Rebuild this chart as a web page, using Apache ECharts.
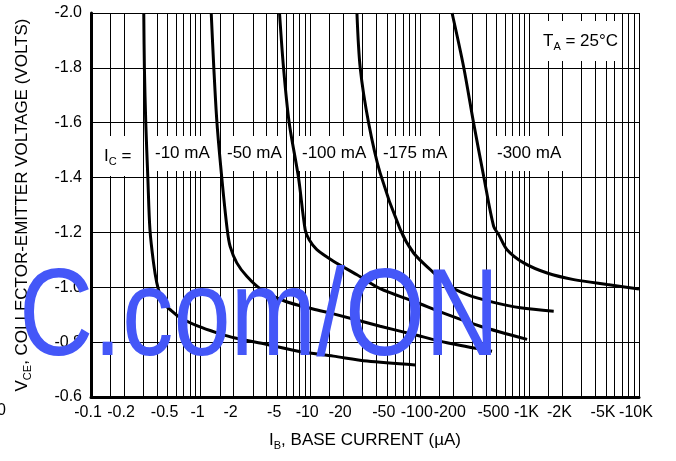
<!DOCTYPE html>
<html>
<head>
<meta charset="utf-8">
<script src="https://cdn.jsdelivr.net/npm/echarts@6/dist/echarts.min.js"></script>
<style>
html,body{margin:0;padding:0;background:#fff;}
#c{width:676px;height:461px;}
</style>
</head>
<body>
<div id="c"></div>
<script>
// ---- data (I_B in µA, shown negative; V_CE in volts) ----
const ib10  = [0.303,0.307,0.316,0.330,0.345,0.372,0.398,0.427,0.474,0.526,0.650,0.949,1.41,2.07,3.96,7.77,16.3,33.0,91];
const vce10 = [-2.0,-1.8,-1.6,-1.4,-1.21,-1.089,-1.017,-0.973,-0.937,-0.919,-0.89,-0.858,-0.834,-0.815,-0.792,-0.767,-0.749,-0.731,-0.717];

const ib50  = [1.25,1.32,1.41,1.56,1.75,1.86,2.14,2.64,3.57,5.91,10.6,16.3,43.5,87.8,177,456];
const vce50 = [-2.0,-1.8,-1.6,-1.4,-1.21,-1.149,-1.089,-1.04,-0.992,-0.949,-0.921,-0.903,-0.858,-0.828,-0.798,-0.767];

const ib100  = [5.25,5.71,6.43,7.82,9.0,9.79,11.5,16.3,26.7,43.5,87.8,177,357,953];
const vce100 = [-2.0,-1.8,-1.6,-1.4,-1.21,-1.173,-1.137,-1.095,-1.046,-0.995,-0.949,-0.901,-0.858,-0.81];

const ib175  = [26.7,28.6,34.1,43.5,66.4,87.8,125,177,270,472,828,1667];
const vce175 = [-2.0,-1.8,-1.6,-1.416,-1.21,-1.125,-1.064,-1.01,-0.973,-0.945,-0.925,-0.913];

const ib300  = [197,251,310,383,472,525,625,887,1452,2542,5128,10000];
const vce300 = [-2.0,-1.804,-1.598,-1.404,-1.222,-1.192,-1.137,-1.089,-1.052,-1.028,-1.01,-0.994];

const seriesNames = ['-10 mA','-50 mA','-100 mA','-175 mA','-300 mA'];

const xLabelValues = [0.1,0.2,0.5,1,2,5,10,20,50,100,200,500,1000,2000,5000,10000];
const xLabelTexts  = ['-0.1','-0.2','-0.5','-1','-2','-5','-10','-20','-50','-100','-200','-500','-1K','-2K','-5K','-10K'];
const xGridMantissas = [1,1.5,2,3,4,5,6,7,8,9];
const xDecades = [0.1,1,10,100,1000];

// ---- build ----
const xGridValues = [];
xDecades.forEach(d => xGridMantissas.forEach(m => xGridValues.push(+(m*d).toPrecision(3))));
xGridValues.push(10000);

function pairs(xs, ys){ return xs.map((x,i)=>[x, ys[i]]); }
const allX = [ib10, ib50, ib100, ib175, ib300];
const allY = [vce10, vce50, vce100, vce175, vce300];

const FONT = 'Liberation Sans';
const chart = echarts.init(document.getElementById('c'), null, {renderer:'canvas'});

function xLabel(v){
  let best = 0, bd = 1e9;
  xLabelValues.forEach((lv,i)=>{ const d = Math.abs(Math.log10(v) - Math.log10(lv)); if(d<bd){bd=d;best=i;} });
  return xLabelTexts[best];
}

const subRich = {
  v: {fontFamily: FONT, fontSize: 17, color:'#000', lineHeight: 22},
  s: {fontFamily: FONT, fontSize: 11, color:'#000', lineHeight: 11, verticalAlign:'bottom'}
};

const labelBox = (left, top, text) => ({
  type:'text', left:left, top:top, z:1,
  style:{
    text:text, fill:'#000', font:'17px ' + FONT,
    backgroundColor:'#fff', padding:[9,3,9,3], rich: subRich
  }
});

chart.setOption({
  animation:false,
  backgroundColor:'#fff',
  grid:{left:91, right:37, top:13, bottom:64},
  xAxis:{
    type:'log', logBase:10, min:0.1, max:10000,
    name:'{v|I}{s|B}{v|, BASE CURRENT (µA)}',
    nameLocation:'middle', nameGap:32,
    nameTextStyle:{rich: subRich},
    axisLine:{show:true, lineStyle:{color:'#000', width:3}},
    axisTick:{show:false, customValues: xGridValues},
    axisLabel:{customValues: xLabelValues, formatter: xLabel, color:'#000',
               fontFamily: FONT, fontSize:16, margin:8, padding:[0,6,0,0]},
    splitLine:{show:true, lineStyle:{color:'#000', width:1}},
    minorTick:{show:false}, minorSplitLine:{show:false}
  },
  yAxis:{
    type:'value', min:-2.0, max:-0.6, interval:0.2, inverse:true,
    name:'{v|V}{s|CE}{v|, COLLECTOR-EMITTER VOLTAGE (VOLTS)}',
    nameLocation:'middle', nameGap:58, nameRotate:90,
    nameTextStyle:{rich: subRich},
    axisLine:{show:true, lineStyle:{color:'#000', width:3}},
    axisTick:{show:false},
    axisLabel:{formatter: v => v.toFixed(1), color:'#000', fontFamily: FONT, fontSize:16, margin:9,
               padding:[0,0,8,0]},
    splitLine:{show:true, lineStyle:{color:'#000', width:1}}
  },
  series: seriesNames.map((n,i)=>({
    name:n, type:'line', data: pairs(allX[i], allY[i]),
    showSymbol:false, smooth:0.3, z:3,
    lineStyle:{color:'#000', width:3}, clip:true
  })),
  graphic:[
    labelBox(101, 136, '{v|I}{s|C}{v| =}'),
    labelBox(152, 136, '-10 mA'),
    labelBox(224, 136, '-50 mA'),
    labelBox(299, 136, '-100 mA'),
    labelBox(380, 136, '-175 mA'),
    labelBox(494, 136, '-300 mA'),
    labelBox(540, 21, '{v|T}{s|A}{v| = 25°C}'),
    { type:'text', left:-3, top:403, z:5,
      style:{text:'0', fill:'#000', font:'16px ' + FONT} },
    { type:'text', x:19, y:321, scaleX:0.83, z:100,
      style:{text:'C.com/ON', fill:'#4457f8', font:'124px ' + FONT, verticalAlign:'middle', align:'left'} }
  ]
});
</script>
</body>
</html>
